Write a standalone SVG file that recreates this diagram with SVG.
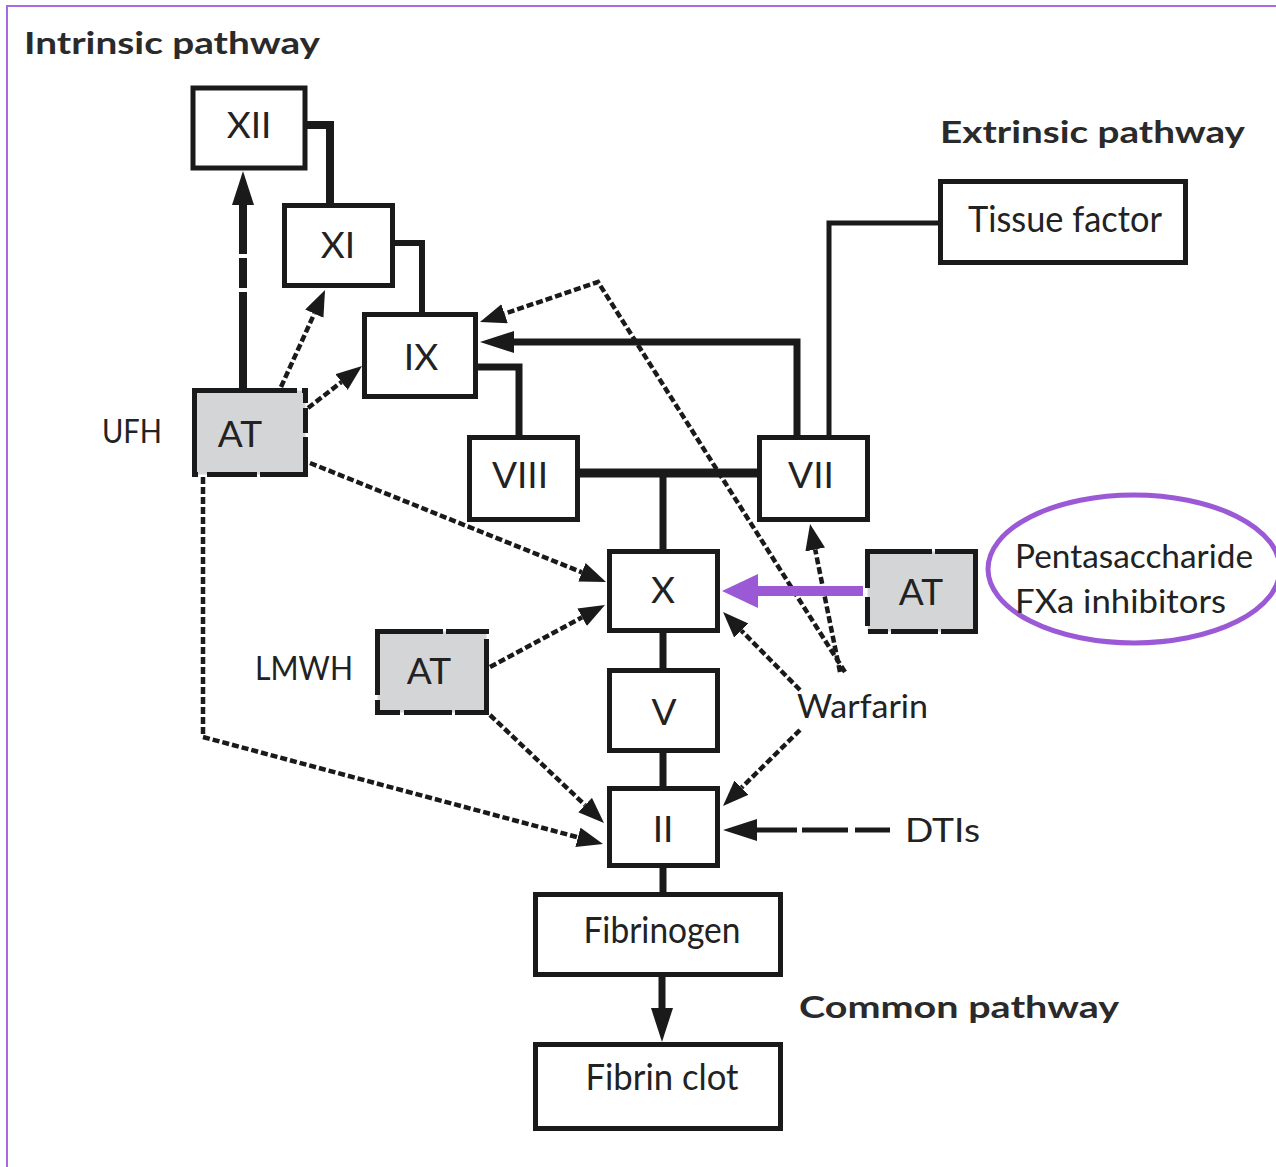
<svg xmlns="http://www.w3.org/2000/svg" width="1276" height="1167" viewBox="0 0 1276 1167">
<defs>
<style>
.box{fill:#fff;stroke:#1a1a1a;stroke-width:5}
.gbox{fill:#d4d5d7;stroke:#1a1a1a;stroke-width:5}
.lbl{font-family:Lato,"Open Sans","Liberation Sans",sans-serif;font-size:37px;fill:#222;text-anchor:middle}
.side{font-family:Lato,"Open Sans","Liberation Sans",sans-serif;font-size:33px;fill:#222}
.head{font-family:Lato,"Open Sans","Liberation Sans",sans-serif;font-size:31px;font-weight:700;fill:#2a2a2a}
.solid{fill:none;stroke:#1a1a1a;stroke-linejoin:miter}
.dot{fill:none;stroke:#1a1a1a;stroke-width:4.5;stroke-dasharray:7 3}
.pur{stroke:#9b59d6;fill:none}
</style>
<marker id="ahS" markerUnits="userSpaceOnUse" markerWidth="28" markerHeight="22" refX="0" refY="10" orient="auto"><path d="M0,0 L26,10 L0,20 Z" fill="#1a1a1a"/></marker>
<marker id="ahL" markerUnits="userSpaceOnUse" markerWidth="36" markerHeight="24" refX="0" refY="11" orient="auto"><path d="M0,0 L34,11 L0,22 Z" fill="#1a1a1a"/></marker>
</defs>
<rect x="7" y="6" width="1300" height="1200" fill="#fff" stroke="#a56be0" stroke-width="2"/>

<text class="head" x="24" y="54" textLength="296" lengthAdjust="spacingAndGlyphs">Intrinsic pathway</text>
<text class="head" x="940" y="143" textLength="305" lengthAdjust="spacingAndGlyphs">Extrinsic pathway</text>
<text class="head" x="799" y="1018" textLength="320" lengthAdjust="spacingAndGlyphs">Common pathway</text>

<g id="connectors">
<path class="solid" stroke-width="8" d="M307,125 H330 V205"/>
<path class="solid" stroke-width="6" d="M395,243 H422 V313"/>
<path class="solid" stroke-width="7" d="M478,367 H519 V436"/>
<path class="solid" stroke-width="9" d="M580,473 H757"/>
<path class="solid" stroke-width="7" d="M663,473 V550"/>
<path class="solid" stroke-width="7" d="M663,633 V671"/>
<path class="solid" stroke-width="7" d="M663,753 V787"/>
<path class="solid" stroke-width="7" d="M663,867 V893"/>
<path class="solid" stroke-width="7" d="M662,977 V1008" marker-end="url(#ahL)"/>
<path class="solid" stroke-width="7" d="M797,437 V342 H514" marker-end="url(#ahL)"/>
<path class="solid" stroke-width="5" d="M940,223 H829 V437"/>
<path class="solid" stroke-width="8" stroke-dasharray="96 4 30 4 200" d="M243,388 V205" marker-end="url(#ahL)"/>
<path class="solid" stroke-width="5" stroke-dasharray="35 7 46 5 60" d="M890,830 H757" marker-end="url(#ahL)"/>
<path class="dot" d="M281,387 L314.3,313.7" marker-end="url(#ahS)"/>
<path class="dot" d="M308,408 L341.5,382" marker-end="url(#ahS)"/>
<path class="dot" d="M310,463 L581.9,572.3" marker-end="url(#ahS)"/>
<path class="dot" d="M203,477 V737 L577.9,837.3" marker-end="url(#ahS)"/>
<path class="dot" d="M490,667 L582.1,617.3" marker-end="url(#ahS)"/>
<path class="dot" d="M490,715 L585.1,805.1" marker-end="url(#ahS)"/>
<path class="dot" d="M800,690 L741.3,630.5" marker-end="url(#ahS)"/>
<path class="dot" d="M800,730 L741.5,787.7" marker-end="url(#ahS)"/>
<path class="dot" d="M840,672 L815.2,549.5" marker-end="url(#ahS)"/>
<path class="dot" d="M845,672 L598,282 L504.6,313.7" marker-end="url(#ahS)"/>
<path class="pur" stroke-width="10" d="M863,591 H756"/>
<polygon points="722,591 758,574 758,608" fill="#9b59d6"/>
</g>

<g id="node-XII"><rect class="box" x="193" y="88" width="112" height="80"/><text class="lbl" x="249" y="138">XII</text></g>
<g id="node-XI"><rect class="box" x="284.5" y="205.5" width="108" height="80"/><text class="lbl" x="338" y="258">XI</text></g>
<g id="node-IX"><rect class="box" x="364.5" y="314.5" width="111" height="82"/><text class="lbl" x="421" y="370">IX</text></g>
<g id="node-VIII"><rect class="box" x="469.5" y="437.5" width="108" height="82"/><text class="lbl" x="520" y="488">VIII</text></g>
<g id="node-VII"><rect class="box" x="759.5" y="437.5" width="108" height="82"/><text class="lbl" x="811" y="488">VII</text></g>
<g id="node-tissue-factor"><rect class="box" x="940.5" y="181.5" width="245" height="81"/><text class="lbl" x="1065" y="232" textLength="194" lengthAdjust="spacingAndGlyphs">Tissue factor</text></g>
<g id="node-AT-UFH"><rect class="gbox" x="194.5" y="390.5" width="111" height="84" stroke-dasharray="102.5 5 16 5 25 4 83 3 50 9 100"/><text class="lbl" x="240" y="447">AT</text></g>
<g id="label-UFH"><text class="side" x="102" y="443" textLength="60" lengthAdjust="spacingAndGlyphs">UFH</text></g>
<g id="node-X"><rect class="box" x="609.5" y="551.5" width="108" height="79"/><text class="lbl" x="663" y="603">X</text></g>
<g id="node-AT-penta"><rect class="gbox" x="867.5" y="551.5" width="108" height="80" stroke-dasharray="64.5 3 155 3 47 3 20 6 29 9 100"/><text class="lbl" x="921" y="605">AT</text></g>
<g id="label-penta"><ellipse class="pur" cx="1134" cy="569" rx="146" ry="74" stroke-width="5"/><text class="side" x="1015" y="568" textLength="238" lengthAdjust="spacingAndGlyphs">Pentasaccharide</text><text class="side" x="1015" y="613" textLength="211" lengthAdjust="spacingAndGlyphs">FXa inhibitors</text></g>
<g id="node-AT-LMWH"><rect class="gbox" x="377.5" y="631.5" width="109" height="81" stroke-dasharray="65.5 3 43 5 105 3 48 4 35 5 100"/><text class="lbl" x="429" y="684">AT</text></g>
<g id="label-LMWH"><text class="side" x="255" y="680" textLength="98" lengthAdjust="spacingAndGlyphs">LMWH</text></g>
<g id="node-V"><rect class="box" x="609.5" y="670.5" width="108" height="80"/><text class="lbl" x="664" y="725">V</text></g>
<g id="label-warfarin"><text class="side" x="797" y="718" textLength="131" lengthAdjust="spacingAndGlyphs">Warfarin</text></g>
<g id="node-II"><rect class="box" x="609.5" y="788.5" width="108" height="77"/><text class="lbl" x="663" y="842">II</text></g>
<g id="label-DTIs"><text class="side" x="905" y="842" textLength="75" lengthAdjust="spacingAndGlyphs">DTIs</text></g>
<g id="node-fibrinogen"><rect class="box" x="535.5" y="894.5" width="245" height="80"/><text class="lbl" x="662" y="943" textLength="157" lengthAdjust="spacingAndGlyphs">Fibrinogen</text></g>
<g id="node-fibrin-clot"><rect class="box" x="535.5" y="1044.5" width="245" height="84"/><text class="lbl" x="662" y="1090" textLength="153" lengthAdjust="spacingAndGlyphs">Fibrin clot</text></g>
</svg>
